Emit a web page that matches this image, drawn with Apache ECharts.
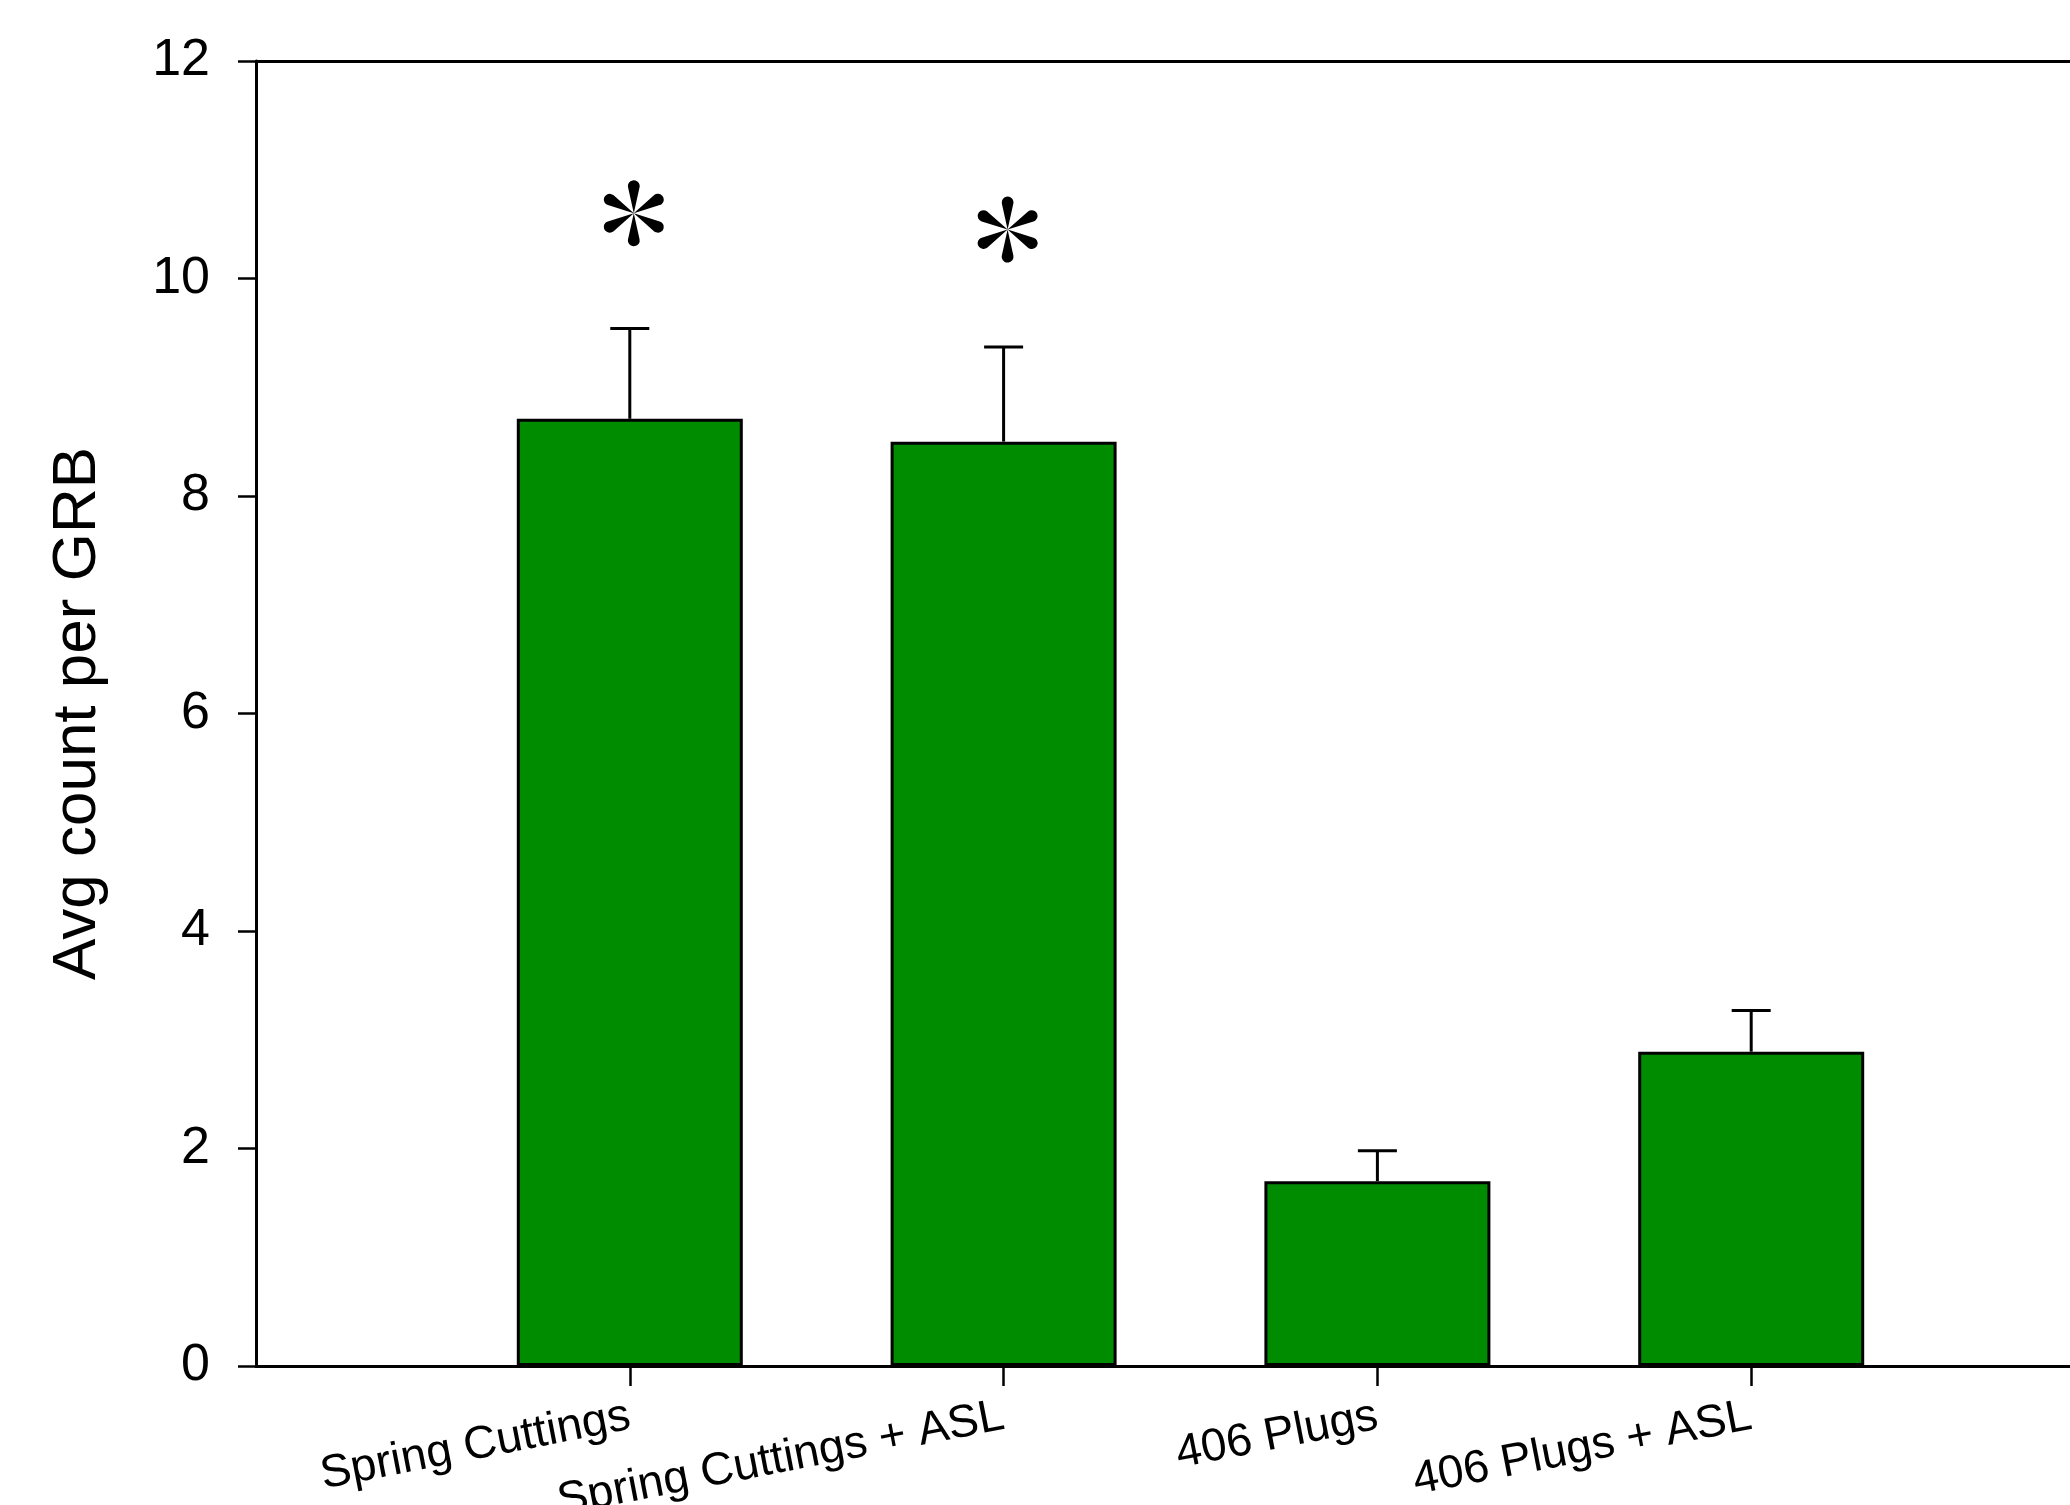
<!DOCTYPE html>
<html>
<head>
<meta charset="utf-8">
<script src="https://cdn.jsdelivr.net/npm/echarts@6/dist/echarts.min.js"></script>
<style>
  html, body { margin: 0; padding: 0; background: #fff; }
  #main { width: 2070px; height: 1505px; }
</style>
</head>
<body>
<div id="main"></div>
<script>
// data
var categories = ['Spring Cuttings', 'Spring Cuttings + ASL', '406 Plugs', '406 Plugs + ASL'];
var positions = [1, 2, 3, 4];
var means = [8.71, 8.50, 1.70, 2.89];
var stdErr = [0.83, 0.87, 0.28, 0.38];
var starY = [10.6, 10.45, null, null];   // significance marks
var yTicks = [0, 2, 4, 6, 8, 10, 12];

var FONT = '"Liberation Sans", Arial, sans-serif';

// six teardrop petals, like the asterisk in the original
function asteriskPath() {
  var d = 26, r = 5.5;
  var dl = Math.asin(r / d), L = Math.sqrt(d * d - r * r);
  var s = '';
  for (var k = 0; k < 6; k++) {
    var a = k * Math.PI / 3;
    var pts = [[-L * Math.sin(dl), -L * Math.cos(dl)], [L * Math.sin(dl), -L * Math.cos(dl)]].map(function (p) {
      return [p[0] * Math.cos(a) - p[1] * Math.sin(a), p[0] * Math.sin(a) + p[1] * Math.cos(a)];
    });
    s += 'M0 0 L' + pts[0][0].toFixed(2) + ' ' + pts[0][1].toFixed(2) +
      ' A' + r + ' ' + r + ' 0 1 1 ' + pts[1][0].toFixed(2) + ' ' + pts[1][1].toFixed(2) + ' Z ';
  }
  return 'path://' + s;
}

var barData = positions.map(function (x, i) { return [x, means[i]]; });
var errData = positions.map(function (x, i) { return [x, means[i], means[i] + stdErr[i]]; });
var starData = [];
for (var i = 0; i < positions.length; i++) {
  if (starY[i] != null) starData.push([positions[i], starY[i]]);
}

var chart = echarts.init(document.getElementById('main'));
chart.setOption({
  backgroundColor: '#ffffff',
  animation: false,
  grid: { left: 256, top: 61, bottom: 139, right: -55, outerBoundsMode: 'none', containLabel: false },
  xAxis: [{
    type: 'value',
    min: 0,
    max: 5,
    position: 'bottom',
    axisLine: { show: true, onZero: false, lineStyle: { color: '#000', width: 3 } },
    axisTick: { show: true, customValues: positions, length: 20, lineStyle: { color: '#000', width: 2.5 } },
    axisLabel: {
      customValues: positions,
      formatter: function (v) { return categories[positions.indexOf(v)]; },
      rotate: 11,
      margin: 50,
      fontSize: 46,
      color: '#000',
      fontFamily: FONT
    },
    splitLine: { show: false }
  }, {
    type: 'value',
    min: 0,
    max: 5,
    position: 'top',
    axisLine: { show: true, onZero: false, lineStyle: { color: '#000', width: 3 } },
    axisTick: { show: false },
    axisLabel: { show: false },
    splitLine: { show: false }
  }],
  yAxis: {
    type: 'value',
    min: yTicks[0],
    max: yTicks[yTicks.length - 1],
    interval: 2,
    name: 'Avg count per GRB',
    nameLocation: 'middle',
    nameGap: 147,
    nameTextStyle: { fontSize: 62, color: '#000', fontFamily: FONT },
    axisLine: { show: true, onZero: false, lineStyle: { color: '#000', width: 3 } },
    axisTick: { show: true, length: 18, lineStyle: { color: '#000', width: 2.5 } },
    axisLabel: { customValues: yTicks, fontSize: 52, margin: 46, color: '#000', fontFamily: FONT },
    splitLine: { show: false }
  },
  series: [{
    type: 'bar',
    xAxisIndex: 0,
    data: barData,
    barWidth: 226,
    itemStyle: { color: '#008c00', borderColor: '#000', borderWidth: 3 },
    z: 2
  }, {
    type: 'custom',
    xAxisIndex: 0,
    data: errData,
    z: 3,
    renderItem: function (params, api) {
      var x = api.value(0);
      var p0 = api.coord([x, api.value(1)]);
      var p1 = api.coord([x, api.value(2)]);
      var half = 19.5;
      var st = { stroke: '#000', lineWidth: 3 };
      return {
        type: 'group',
        children: [
          { type: 'line', shape: { x1: p0[0], y1: p0[1], x2: p1[0], y2: p1[1] }, style: st },
          { type: 'line', shape: { x1: p1[0] - half, y1: p1[1], x2: p1[0] + half, y2: p1[1] }, style: st }
        ]
      };
    }
  }, {
    type: 'scatter',
    xAxisIndex: 0,
    data: starData,
    symbol: asteriskPath(),
    symbolSize: [60, 66],
    symbolOffset: [4, 0],
    itemStyle: { color: '#000', opacity: 1 },
    z: 4
  }]
});
</script>
</body>
</html>
